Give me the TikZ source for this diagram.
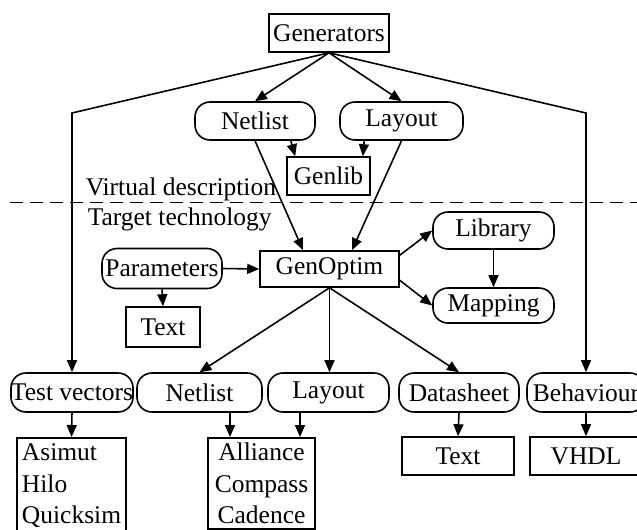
\documentclass[tikz,border=0pt]{standalone}
\usepackage{fontspec}
\setmainfont{Liberation Serif}
\usetikzlibrary{arrows.meta}
\begin{document}
\begin{tikzpicture}[font=\fontsize{14.5}{18}\selectfont,
  line width=0.9pt,
  arr/.style={-{Triangle[length=0.24cm,width=0.2cm]}},
  rbox/.style={draw,rounded corners=0.3cm,minimum height=0.76cm,inner sep=0pt},
  sbox/.style={draw,minimum height=0.76cm,inner sep=0pt}]
  \useasboundingbox (0,0) rectangle (12.74,10.58);
  % upper part
  \node[sbox,minimum width=2.4cm] (gen) at (6.58,9.92) {Generators};
  \node[rbox,minimum width=2.4cm] (topnet) at (5.10,8.16) {Netlist};
  \node[rbox,minimum width=2.46cm] (toplay) at (8.03,8.16) {Layout};
  \node[sbox,minimum width=1.66cm] (genlib) at (6.57,7.06) {Genlib};
  \coordinate (cl) at (1.44,8.32);
  \coordinate (cr) at (11.72,8.32);
  \node[anchor=west,inner sep=0pt] (virt) at (1.70,6.80) {Virtual description};
  \node[anchor=west,inner sep=0pt] (targ) at (1.74,6.20) {Target technology};
  \draw[line width=0.5pt,dash pattern=on 0.25cm off 0.15cm] (0.2,6.54) -- (12.74,6.54);
  % middle part
  \node[rbox,minimum width=2.4cm,minimum height=0.8cm] (params) at (3.24,5.21) {Parameters};
  \node[sbox,minimum width=2.78cm,minimum height=0.72cm] (genopt) at (6.59,5.20) {GenOptim};
  \node[rbox,minimum width=2.42cm,minimum height=0.74cm] (library) at (9.87,5.97) {Library};
  \node[rbox,minimum width=2.42cm,minimum height=0.70cm] (mapping) at (9.87,4.47) {Mapping};
  \node[sbox,minimum width=1.48cm,minimum height=0.8cm] (ptext) at (3.26,4.04) {Text};
  % lower part
  \node[rbox,minimum width=2.4cm,minimum height=0.78cm] (testvec) at (1.44,2.73) {Test vectors};
  \node[rbox,minimum width=2.5cm,minimum height=0.78cm] (botnet) at (3.99,2.73) {Netlist};
  \node[rbox,minimum width=2.42cm,minimum height=0.78cm] (botlay) at (6.57,2.73) {Layout};
  \node[rbox,minimum width=2.4cm,minimum height=0.78cm] (dsheet) at (9.18,2.73) {Datasheet};
  \node[rbox,minimum width=2.36cm,minimum height=0.78cm] (behav) at (11.72,2.73) {Behaviour};
  \node[draw,anchor=north,align=left,text width=1.98cm,inner xsep=0.1cm,inner ysep=0.12cm]
    (asimut) at (1.43,1.84) {Asimut\\Hilo\\Quicksim};
  \node[draw,anchor=north,align=center,text width=1.94cm,inner xsep=0.1cm,inner ysep=0.1cm]
    (alliance) at (5.23,1.84) {Alliance\\Compass\\Cadence};
  \node[sbox,minimum width=2.24cm] (dstext) at (9.16,1.46) {Text};
  \node[sbox,minimum width=2.24cm] (vhdl) at (11.72,1.46) {VHDL};
  % connectors
  \draw[arr] (gen.south) -- (topnet.north);
  \draw[arr] (gen.south) -- (toplay.north);
  \draw[arr] (gen.south) -- (cl) -- (testvec.north);
  \draw[arr] (gen.south) -- (cr) -- (behav.north);
  \draw[arr] ([xshift=-0.5cm]topnet.south east) -- ([xshift=0.18cm]genlib.north west);
  \draw[arr] ([xshift=0.5cm]toplay.south west) -- ([xshift=-0.16cm]genlib.north east);
  \draw[arr] (topnet.south) -- ([xshift=-0.53cm]genopt.north);
  \draw[arr] (toplay.south) -- ([xshift=0.45cm]genopt.north);
  \draw[arr] (params.east) -- (genopt.west);
  \draw[arr] (params.south) -- (ptext.north);
  \draw[arr] ([yshift=-0.1cm]genopt.north east) -- (library.west);
  \draw[arr] ([yshift=0.15cm]genopt.south east) -- (mapping.west);
  \draw[arr] (library.south) -- (mapping.north);
  \draw[arr] (genopt.south) -- (botnet.north);
  \draw[arr] (genopt.south) -- (genopt.south |- botlay.north);
  \draw[arr] (genopt.south) -- (dsheet.north);
  \draw[arr] (testvec.south) -- (asimut.north);
  \draw[arr] ([xshift=0.61cm]botnet.south) -- ([xshift=0.61cm]botnet.south |- alliance.north);
  \draw[arr] ([xshift=-0.57cm]botlay.south) -- ([xshift=-0.57cm]botlay.south |- alliance.north);
  \draw[arr] (dsheet.south) -- (dstext.north);
  \draw[arr] (behav.south) -- (vhdl.north);
\end{tikzpicture}
\end{document}
